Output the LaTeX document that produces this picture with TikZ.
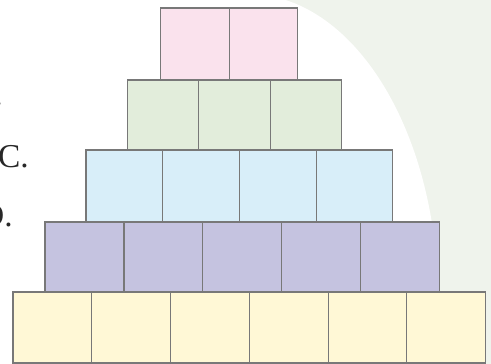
\documentclass[tikz,border=0pt]{standalone}
\usepackage{fontspec}
\setmainfont{Liberation Serif}
\usetikzlibrary{positioning}
\definecolor{RosaCaja}{RGB}{250,226,237}
\definecolor{VerdeCaja}{RGB}{226,237,219}
\definecolor{AzulCaja}{RGB}{216,238,249}
\definecolor{MoradoCaja}{RGB}{197,195,224}
\definecolor{AmarilloCaja}{RGB}{255,248,214}
\definecolor{BordeCaja}{RGB}{120,120,120}
\definecolor{FondoVerde}{RGB}{239,243,236}
\definecolor{TextoOpcion}{RGB}{40,40,40}

\begin{document}
\begin{tikzpicture}[
  x=0.02cm, y=-0.02cm,
  caja/.style={draw=BordeCaja, line width=0.6pt, inner sep=0pt, outer sep=0pt, anchor=north west},
  fila1/.style={fill=RosaCaja, minimum width=1.37cm, minimum height=1.44cm},
  fila2/.style={fill=VerdeCaja, minimum width=1.426cm, minimum height=1.40cm},
  fila3/.style={fill=AzulCaja, minimum width=1.534cm, minimum height=1.44cm},
  fila4/.style={fill=MoradoCaja, minimum width=1.58cm, minimum height=1.40cm},
  fila5/.style={fill=AmarilloCaja, minimum width=1.576cm, minimum height=1.42cm},
  opcion/.style={font=\fontsize{19}{23}\selectfont, inner sep=0pt, anchor=base east, text=TextoOpcion},
]
\useasboundingbox (0,0) rectangle (491,364);
\clip (0,0) rectangle (491,364);

% --- Fondo ---
\fill[FondoVerde] (0,0) rectangle (491,364);
\fill[white] (248,300) ellipse [x radius=190, y radius=306];
\fill[white] (0,0) rectangle (248,364);

% --- Opciones (cortadas por el borde) ---
\node[opcion] (optB) at (3,106) {B.};
\node[opcion] (optC) at (29,168) {C.};
\node[opcion] (optD) at (13,227) {D.};

% --- Fila 1 ---
\node[caja, fila1] (f1c1) at (160.7,8) {};
\foreach \i [count=\j from 2] in {1}
  \node[caja, fila1, right=0pt of f1c\i] (f1c\j) {};

% --- Fila 2 ---
\node[caja, fila2] (f2c1) at (127.5,80) {};
\foreach \i [count=\j from 2] in {1,2}
  \node[caja, fila2, right=0pt of f2c\i] (f2c\j) {};

% --- Fila 3 ---
\node[caja, fila3] (f3c1) at (86,150) {};
\foreach \i [count=\j from 2] in {1,...,3}
  \node[caja, fila3, right=0pt of f3c\i] (f3c\j) {};

% --- Fila 4 ---
\node[caja, fila4] (f4c1) at (45,222) {};
\foreach \i [count=\j from 2] in {1,...,4}
  \node[caja, fila4, right=0pt of f4c\i] (f4c\j) {};

% --- Fila 5 ---
\node[caja, fila5] (f5c1) at (13,292) {};
\foreach \i [count=\j from 2] in {1,...,5}
  \node[caja, fila5, right=0pt of f5c\i] (f5c\j) {};

\end{tikzpicture}
\end{document}
